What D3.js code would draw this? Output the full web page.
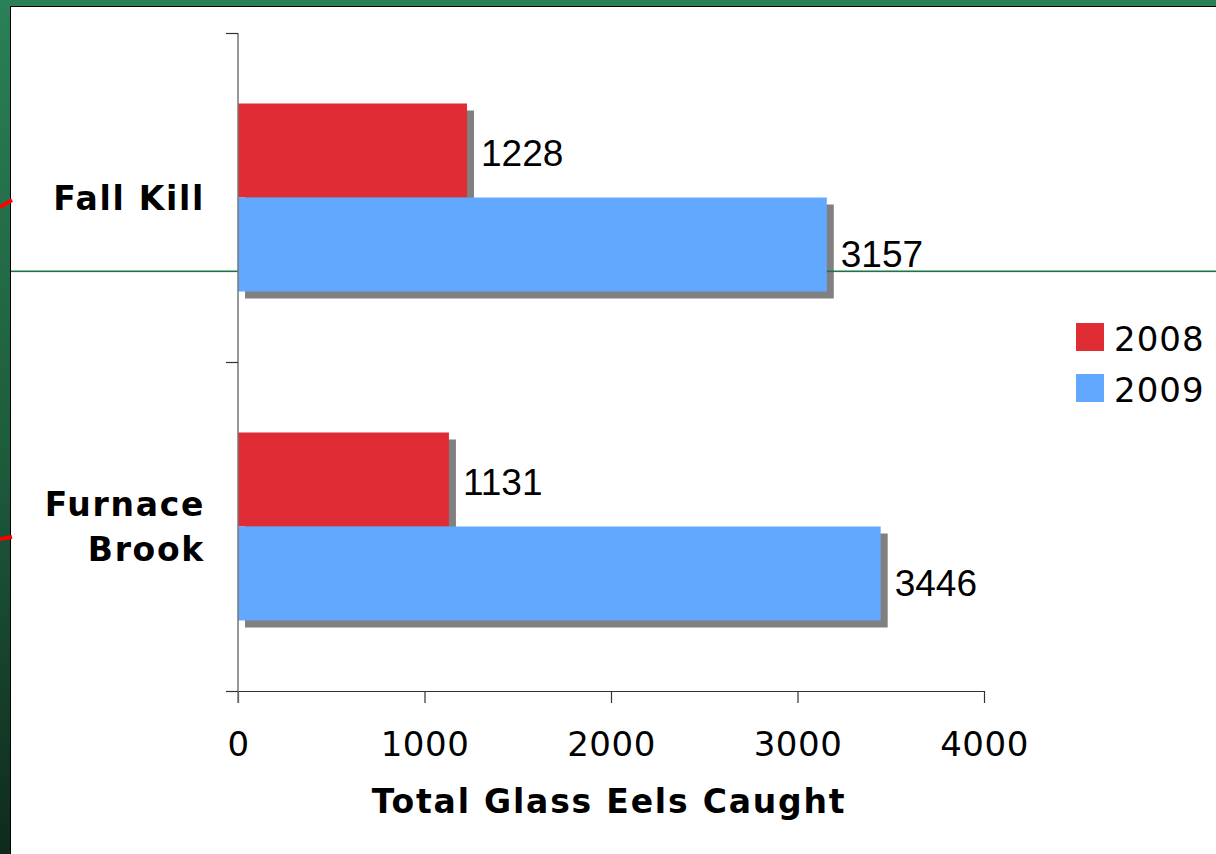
<!DOCTYPE html>
<html>
<head>
<meta charset="utf-8">
<script src="https://cdn.jsdelivr.net/npm/d3@7"></script>
<style>
  body { margin: 0; padding: 0; background: #fff; }
  svg { display: block; }
</style>
</head>
<body>
<div id="chart"></div>
<script>
var categories = ["Fall Kill", "Furnace Brook"];
var seriesNames = ["2008", "2009"];
var values2008 = [1228, 1131];
var values2009 = [3157, 3446];
var xTicks = [0, 1000, 2000, 3000, 4000];

var colors = ["#e02d35", "#63a8ff"];
var labelDy = [6, 13];

var width = 1216, height = 854;

var svg = d3.select("#chart").append("svg")
  .attr("width", width)
  .attr("height", height);

// slide frame
var grad = svg.append("defs").append("linearGradient")
  .attr("id", "frame")
  .attr("x1", 0).attr("y1", 0).attr("x2", 0).attr("y2", 1);
grad.append("stop").attr("offset", "0%").attr("stop-color", "#2a8058");
grad.append("stop").attr("offset", "55%").attr("stop-color", "#1d5a3c");
grad.append("stop").attr("offset", "100%").attr("stop-color", "#0f2a1d");

svg.append("rect").attr("width", width).attr("height", height).attr("fill", "url(#frame)");
svg.append("rect").attr("x", 10).attr("y", 6).attr("width", width).attr("height", height)
  .attr("fill", "#000");
svg.append("rect").attr("x", 11).attr("y", 7).attr("width", width).attr("height", height)
  .attr("fill", "#fff");

// red marks on the frame edge
svg.append("line").attr("x1", 0).attr("y1", 207).attr("x2", 12).attr("y2", 200)
  .attr("stroke", "#ff0000").attr("stroke-width", 4);
svg.append("line").attr("x1", 0).attr("y1", 539).attr("x2", 12).attr("y2", 537)
  .attr("stroke", "#ff0000").attr("stroke-width", 4);

var x = d3.scaleLinear().domain([0, 4000]).range([238, 984]);
var y = d3.scaleBand().domain(categories).range([33, 691]);
var ySub = d3.scaleBand().domain(seriesNames).range([0, y.bandwidth()]).paddingOuter(0.75).paddingInner(0);

var rows = [];
categories.forEach(function (c, i) {
  rows.push({ cat: c, s: 0, v: values2008[i] });
  rows.push({ cat: c, s: 1, v: values2009[i] });
});

// shadows
svg.selectAll("rect.shadow")
  .data(rows)
  .enter().append("rect")
  .attr("class", "shadow")
  .attr("x", x(0) + 7)
  .attr("y", function (d) { return y(d.cat) + ySub(seriesNames[d.s]) + 7; })
  .attr("width", function (d) { return x(d.v) - x(0); })
  .attr("height", ySub.bandwidth())
  .attr("fill", "#808080");

// green slide rule line
svg.append("rect").attr("x", 11).attr("width", width).attr("y", 270.5).attr("height", 1.6)
  .attr("fill", "#1b7549");

// bars
svg.selectAll("rect.bar")
  .data(rows)
  .enter().append("rect")
  .attr("class", "bar")
  .attr("x", x(0))
  .attr("y", function (d) { return y(d.cat) + ySub(seriesNames[d.s]); })
  .attr("width", function (d) { return x(d.v) - x(0); })
  .attr("height", ySub.bandwidth())
  .attr("fill", function (d) { return colors[d.s]; });

// value labels
svg.selectAll("text.val")
  .data(rows)
  .enter().append("text")
  .attr("class", "val")
  .attr("x", function (d) { return x(d.v) + 14; })
  .attr("y", function (d) { return y(d.cat) + ySub(seriesNames[d.s]) + ySub.bandwidth() / 2 + labelDy[d.s]; })
  .attr("dominant-baseline", "middle")
  .attr("font-family", "Liberation Sans, Arial, sans-serif")
  .attr("font-size", 37)
  .attr("fill", "#000")
  .text(function (d) { return d.v; });

// x axis
var xAxis = svg.append("g")
  .attr("transform", "translate(0,691)")
  .call(d3.axisBottom(x).tickValues(xTicks).tickSize(12).tickPadding(29).tickFormat(d3.format("d")));
xAxis.select(".domain").attr("d", "M226,0.5H984").attr("stroke", "#333").attr("stroke-width", 1.2);
xAxis.selectAll(".tick line").attr("stroke", "#333").attr("stroke-width", 1.2);
xAxis.selectAll(".tick text")
  .attr("font-family", "DejaVu Sans, Verdana, sans-serif")
  .attr("font-size", 34)
  .attr("letter-spacing", 0.5)
  .attr("fill", "#000");

// y axis
var yAxis = svg.append("g")
  .attr("transform", "translate(238,0)");
yAxis.append("line").attr("x1", 0).attr("x2", 0).attr("y1", 33).attr("y2", 703)
  .attr("stroke", "#777").attr("stroke-width", 1.5);
yAxis.selectAll("line.tk")
  .data(categories.map(function (c) { return y(c); }).concat([y.range()[1]]))
  .enter().append("line")
  .attr("class", "tk")
  .attr("x1", -12).attr("x2", 0)
  .attr("y1", function (d) { return d + 0.5; })
  .attr("y2", function (d) { return d + 0.5; })
  .attr("stroke", "#333").attr("stroke-width", 1.2);

// category labels
var catLines = [["Fall Kill"], ["Furnace", "Brook"]];
categories.forEach(function (c, i) {
  var lines = catLines[i];
  var cy = y(c) + y.bandwidth() / 2;
  var t = svg.append("text")
    .attr("text-anchor", "end")
    .attr("font-family", "DejaVu Sans, Verdana, sans-serif")
    .attr("font-weight", "bold")
    .attr("font-size", 33)
    .attr("letter-spacing", 1.7)
    .attr("fill", "#000");
  lines.forEach(function (l, j) {
    t.append("tspan")
      .attr("x", 205)
      .attr("y", cy + 12 + (j - (lines.length - 1) / 2) * 45)
      .text(l);
  });
});

// axis title
svg.append("text")
  .attr("x", 609)
  .attr("y", 813)
  .attr("text-anchor", "middle")
  .attr("font-family", "DejaVu Sans, Verdana, sans-serif")
  .attr("font-weight", "bold")
  .attr("font-size", 33)
  .attr("letter-spacing", 1.8)
  .attr("fill", "#000")
  .text("Total Glass Eels Caught");

// legend
var legend = svg.selectAll("g.leg")
  .data(seriesNames)
  .enter().append("g")
  .attr("class", "leg")
  .attr("transform", function (d, i) { return "translate(1076," + (323 + i * 51) + ")"; });
legend.append("rect").attr("width", 28).attr("height", 28)
  .attr("fill", function (d, i) { return colors[i]; });
legend.append("text")
  .attr("x", 38).attr("y", 28)
  .attr("font-family", "DejaVu Sans, Verdana, sans-serif")
  .attr("font-size", 34)
  .attr("letter-spacing", 1)
  .attr("fill", "#000")
  .text(function (d) { return d; });
</script>
</body>
</html>
